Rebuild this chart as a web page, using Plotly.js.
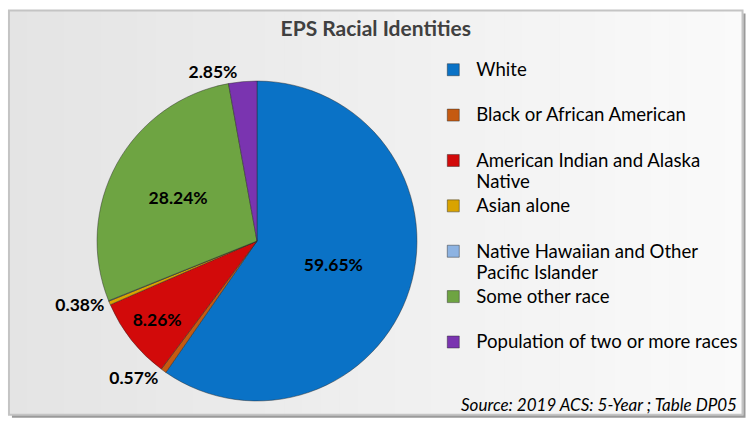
<!DOCTYPE html>
<html>
<head>
<meta charset="utf-8">
<script src="https://cdn.plot.ly/plotly-3.0.1.min.js"></script>
<style>html,body{margin:0;padding:0;background:#fff}#chart{width:747px;height:421px}</style>
</head>
<body>
<div id="chart"></div>
<script>
const categories = ["White", "Black or African American", "American Indian and Alaska<br>Native", "Asian alone", "Native Hawaiian and Other<br>Pacific Islander", "Some other race", "Population of two or more races"];
const percents = [59.65, 0.57, 8.26, 0.38, 0.05, 28.24, 2.85];
const sliceColors = ["#0A72C6", "#C55A11", "#D20A0A", "#D9A300", "#8DB3E2", "#6EA442", "#7A34B0"];
const showLabel = [true, true, true, true, false, true, true];
const labelPos = ["inside", "outside", "inside", "outside", "none", "inside", "outside"];

const legendLabels = categories.map(c => {
  const t = c.indexOf("<br>") >= 0 ? c : c + "<br>&nbsp;";
  return t.split("<br>").map(s => '<span style="font-size:18.6px">' + s + '</span>').join("<br>");
});
const templates = percents.map((v, i) => showLabel[i] ? "%{value:.2f}%" : "");

const trace = {
  type: "pie",
  labels: legendLabels,
  values: percents,
  sort: false,
  direction: "clockwise",
  rotation: 0,
  marker: {colors: sliceColors, line: {color: "rgba(40,40,40,0.45)", width: 1}},
  texttemplate: templates,
  textposition: labelPos,
  textfont: {family: "Lato, sans-serif", size: 17.5, color: "#000", weight: "bold"},
  insidetextorientation: "horizontal",
  hoverinfo: "label+value",
  domain: {x: [0.1299, 0.5582], y: [0.0475, 0.8076]}
};

const bgShapes = [];
const nStrips = 40;
const x0 = 0.012, x1 = 0.994;
bgShapes.push({type: "rect", xref: "paper", yref: "paper", x0: x0 + 0.004, x1: x1 + 0.004, y0: 0.008, y1: 0.968,
  fillcolor: "#9a9a9a", line: {width: 0}, layer: "below"});
for (let i = 0; i < nStrips; i++) {
  const f = i / (nStrips - 1);
  const g = Math.round(0xe4 + (0xfa - 0xe4) * f);
  bgShapes.push({type: "rect", xref: "paper", yref: "paper",
    x0: x0 + (x1 - x0) * i / nStrips, x1: x0 + (x1 - x0) * (i + 1) / nStrips + 0.001, y0: 0.015, y1: 0.975,
    fillcolor: "rgb(" + g + "," + g + "," + g + ")", line: {width: 0}, layer: "below"});
}
bgShapes.push({type: "rect", xref: "paper", yref: "paper", x0: x0, x1: x1, y0: 0.015, y1: 0.975,
  fillcolor: "rgba(0,0,0,0)", line: {color: "#c4c4c4", width: 2}, layer: "below"});

const layout = {
  width: 747, height: 421,
  margin: {l: 0, r: 0, t: 0, b: 0},
  paper_bgcolor: "#ffffff",
  font: {family: "Lato, sans-serif", color: "#000"},
  title: {text: "<b>EPS Racial Identities</b>", x: 0.503, xanchor: "center", y: 0.933, yanchor: "middle", yref: "container",
          font: {family: "Lato, sans-serif", size: 21, color: "#404040"}},
  showlegend: true,
  legend: {x: 0.576, xanchor: "left", y: 0.875, yanchor: "top", valign: "top", itemwidth: 36,
           font: {family: "Lato, sans-serif", size: 16.3, color: "#000"}, bgcolor: "rgba(0,0,0,0)", traceorder: "normal"},
  shapes: bgShapes,
  annotations: [
    {text: "<i>Source: 2019 ACS: 5-Year ; Table DP05</i>", xref: "paper", yref: "paper", x: 0.989, xanchor: "right",
     y: 0.04, yanchor: "middle", showarrow: false, font: {family: "Lato, sans-serif", size: 17, color: "#000"}}
  ]
};

Plotly.newPlot("chart", [trace], layout, {displayModeBar: false, staticPlot: true});
</script>
</body>
</html>
